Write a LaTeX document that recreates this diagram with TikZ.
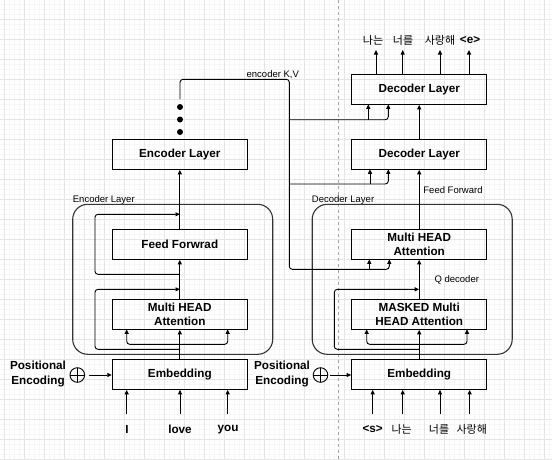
\documentclass[tikz,border=0pt]{standalone}
\usepackage{fontspec}
\setmainfont{Liberation Sans}
\newfontfamily\kr{Noto Sans CJK KR}
\usetikzlibrary{arrows.meta,calc}
\begin{document}
\begin{tikzpicture}[x=1pt,y=-1pt,
  box/.style={draw, line width=1.1pt, minimum width=135pt, minimum height=30pt, inner sep=0pt, align=center, font=\fontsize{11.7}{13.5}\selectfont\bfseries},
  cont/.style={draw=black!80, line width=1.1pt, rounded corners=15pt, minimum width=200pt, minimum height=150pt, inner sep=0pt},
  tip/.tip={Triangle[length=4.5pt,width=4pt]},
  arr/.style={line width=0.9pt, -tip},
  arrb/.style={line width=0.9pt, tip-tip},
  lbl/.style={font=\fontsize{9.5}{11}\selectfont, inner sep=0pt},
  word/.style={font=\fontsize{11.7}{13}\selectfont\bfseries, inner sep=0pt},
  kword/.style={font=\kr\fontsize{11}{13}\selectfont, inner sep=0pt},
  posenc/.style={font=\fontsize{11.7}{14.3}\selectfont\bfseries, inner sep=0pt, align=center},
  bigdot/.style={circle, fill=black, inner sep=0pt, minimum size=6pt},
  oplus/.style={circle, draw, line width=0.9pt, minimum size=14.6pt, inner sep=0pt,
    path picture={\draw[line width=0.9pt] (path picture bounding box.north) -- (path picture bounding box.south) (path picture bounding box.west) -- (path picture bounding box.east);}},
]
\useasboundingbox (0,0) rectangle (552,459);
\fill[white] (0,0) rectangle (552,459);
% grid
\foreach \x in {-1,4,...,552} \draw[black!3, line width=0.5pt] (\x,0) -- (\x,459);
\foreach \y in {-0.5,4.5,...,459.5} \draw[black!3, line width=0.5pt] (0,\y) -- (552,\y);
\foreach \x in {4,24,...,552} \draw[black!10, line width=0.6pt] (\x,0) -- (\x,459);
\foreach \y in {19.5,39.5,...,459.5} \draw[black!10, line width=0.6pt] (0,\y) -- (552,\y);
\draw[black!35, dash pattern=on 3pt off 3pt, line width=0.6pt] (338.3,0) -- (338.3,459);

% containers
\node[cont] (encC) at (172.7,279.3) {};
\node[cont] (decC) at (412.2,279.3) {};
\node[lbl, anchor=west] (encCl) at (72.7,200) {Encoder Layer};
\node[lbl, anchor=west] (decCl) at (311.7,200) {Decoder Layer};

% encoder boxes
\node[box] (enc) at (179.8,154.3) {Encoder Layer};
\node[box] (ff) at (179.8,244.3) {Feed Forwrad};
\node[box] (mha) at (179.8,314.3) {Multi HEAD\\Attention};
\node[box] (emb) at (179.8,374.3) {Embedding};
% decoder boxes
\node[box] (dec2) at (419.2,89.3) {Decoder Layer};
\node[box] (dec1) at (419.2,154.3) {Decoder Layer};
\node[box] (dmha) at (419.2,244.3) {Multi HEAD\\Attention};
\node[box] (mmha) at (419.2,314.3) {MASKED Multi\\HEAD Attention};
\node[box] (demb) at (419.2,374.3) {Embedding};

% dots
\node[bigdot] (d1) at (180,107) {};
\node[bigdot] (d2) at (180,119.5) {};
\node[bigdot] (d3) at (180,132) {};

% encoder flow
\draw[arr] (emb.north) -- (mha.south);
\draw[arr] (mha.north) -- (ff.south);
\draw[arr] (ff.north) -- (enc.south);
\draw[arr, rounded corners=3pt] (180,349.3) -| (95,289.3) -- (180,289.3);
\draw[arr, rounded corners=3pt] (180,274.3) -| (95,214.3) -- (180,214.3);
\draw[arrb, rounded corners=3pt] (126.7,329.3) |- (180,344.3) -| (227.7,329.3);

% decoder flow
\draw[arr] (demb.north) -- (mmha.south);
\draw[arr] (mmha.north) -- (dmha.south);
\draw[arr] (dmha.north) -- (dec1.south);
\draw[arr] (dec1.north) -- (dec2.south);
\draw[arr, rounded corners=3pt] (419.2,349.3) -| (334.3,289.3) -- (419.2,289.3);
\draw[arrb, rounded corners=3pt] (366.7,329.3) |- (419.2,344.3) -| (467,329.3);

% encoder K,V
\coordinate (kvs) at (180,99);
\draw[arr, rounded corners=3pt] (kvs) |- (289.3,79.3) |- (389.3,269.3) -- (389.3,259.3);
\draw[arr] (369.3,269.3) -- (369.3,259.3);
\draw[arr, rounded corners=3pt] (289.3,119.7) -| (388.3,104.3);
\draw[arr] (368.3,119.7) -- (368.3,104.3);
\draw[arr, rounded corners=3pt] (289.3,184) -| (388.3,169.3);
\draw[arr] (370,184) -- (370,169.3);

\node[lbl] (kvl) at (272.8,75) {encoder K,V};
\node[lbl] (ffl) at (453,190) {Feed Forward};
\node[lbl] (qdl) at (456.8,279.7) {Q decoder};

% positional encoding
\node[posenc] (pe1t) at (38,374) {Positional\\Encoding};
\node[oplus] (pe1) at (77.3,375) {};
\coordinate (pe1a) at (89.3,375);
\draw[arr] (pe1a) -- (emb.west |- pe1a);
\node[posenc] (pe2t) at (282,374) {Positional\\Encoding};
\node[oplus] (pe2) at (320.5,375) {};
\coordinate (pe2a) at (330,375);
\draw[arr] (pe2a) -- (demb.west |- pe2a);

% encoder inputs
\node[word] (wI) at (127,429.3) {I};
\node[word] (wlove) at (180,429.3) {love};
\node[word] (wyou) at (228,429.3) {you};
\coordinate (i1) at (126.7,414);
\coordinate (i2) at (180,414);
\coordinate (i3) at (227.7,414);
\foreach \c in {i1,i2,i3} \draw[arr] (\c) -- (emb.south -| \c);

% decoder inputs
\node[word] (ws) at (372.7,429.3) {<s>};
\node[kword] (wna) at (401.7,429.3) {나는};
\node[kword] (wneo) at (439,429.3) {너를};
\node[kword] (wsa) at (471.8,429.3) {사랑해};
\coordinate (j1) at (372.7,414);
\coordinate (j2) at (402.7,414);
\coordinate (j3) at (440,414);
\coordinate (j4) at (469.7,414);
\foreach \c in {j1,j2,j3,j4} \draw[arr] (\c) -- (demb.south -| \c);

% outputs
\coordinate (o1) at (376,50);
\coordinate (o2) at (402.7,50);
\coordinate (o3) at (440,50);
\coordinate (o4) at (469,50);
\foreach \c in {o1,o2,o3,o4} \draw[arr] (dec2.north -| \c) -- (\c);
\node[kword] (ona) at (373,40) {나는};
\node[kword] (oneo) at (403,40) {너를};
\node[kword] (osa) at (440,40) {사랑해};
\node[word] (oe) at (470,40) {<e>};
\end{tikzpicture}
\end{document}
